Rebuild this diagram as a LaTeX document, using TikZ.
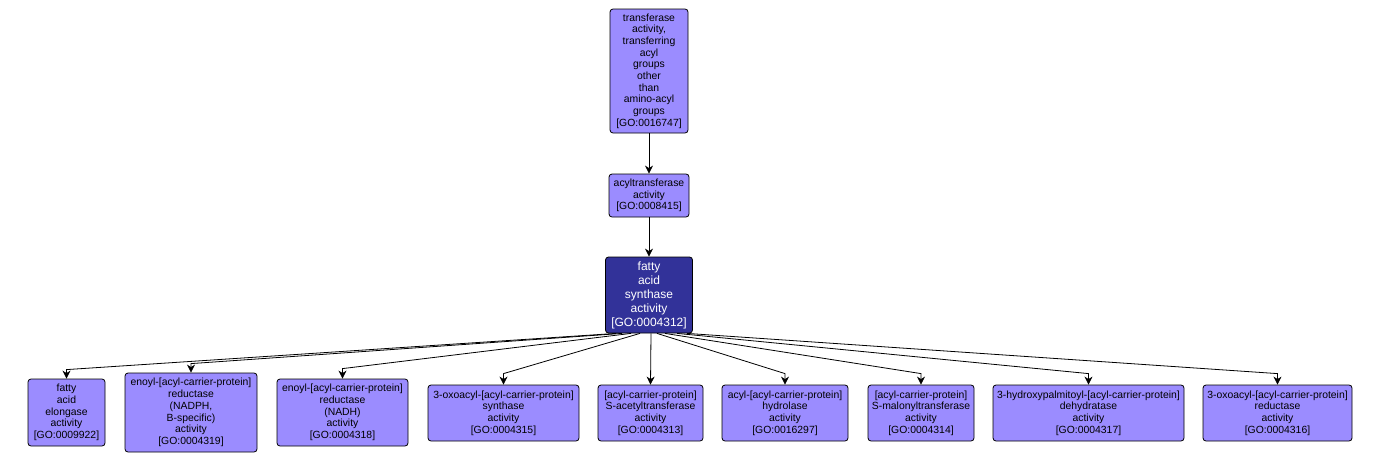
\documentclass[tikz,border=0pt]{standalone}
\usepackage{fontspec}
\setmainfont{Liberation Sans}
\usetikzlibrary{arrows.meta, positioning}
\definecolor{termfill}{RGB}{155,140,255}
\definecolor{focusfill}{RGB}{50,50,153}
\tikzset{x = 1pt, y = -1pt,
         >= {Stealth[length = 8pt, width = 8pt, inset = 2.5pt]},
         term/.style = {draw, rounded corners = 3pt, fill = termfill,
                        inner sep = 0pt, align = center, line width = 0.8pt,
                        font = \fontsize{10.4}{11.7}\selectfont},
         focus/.style = {term, fill = focusfill, text = white,
                         font = \fontsize{12}{14}\selectfont},
         link/.style = {->, line width = 0.8pt}}

\begin{document}
\begin{tikzpicture}
        \useasboundingbox (0,0) rectangle (1388,463);

        % upper chain
        \node[term, minimum width = 78pt, minimum height = 124pt] (go16747) at (649,71)
              {transferase\\activity,\\transferring\\acyl\\groups\\other\\than\\amino-acyl\\groups\\{[GO:0016747]}};
        \node[term, minimum width = 80pt, minimum height = 43pt]  (go8415)  at (649,195.5)
              {acyltransferase\\activity\\{[GO:0008415]}};
        \node[focus, minimum width = 87pt, minimum height = 76pt] (go4312)  at (649,295)
              {fatty\\acid\\synthase\\activity\\{[GO:0004312]}};

        % children
        \node[term, minimum width = 77pt, minimum height = 67pt]  (go9922)  at (66.5,412.5)
              {fatty\\acid\\elongase\\activity\\{[GO:0009922]}};
        \node[term, minimum width = 132pt, minimum height = 79pt] (go4319)  at (191,412.5)
              {enoyl-[acyl-carrier-protein]\\reductase\\(NADPH,\\B-specific)\\activity\\{[GO:0004319]}};
        \node[term, minimum width = 131pt, minimum height = 67pt] (go4318)  at (342.5,412.5)
              {enoyl-[acyl-carrier-protein]\\reductase\\(NADH)\\activity\\{[GO:0004318]}};
        \node[term, minimum width = 151pt, minimum height = 56pt] (go4315)  at (503.5,413)
              {3-oxoacyl-[acyl-carrier-protein]\\synthase\\activity\\{[GO:0004315]}};
        \node[term, minimum width = 105pt, minimum height = 56pt] (go4313)  at (650.5,413)
              {{[acyl-carrier-protein]}\\S-acetyltransferase\\activity\\{[GO:0004313]}};
        \node[term, minimum width = 126pt, minimum height = 56pt] (go16297) at (785,413)
              {acyl-[acyl-carrier-protein]\\hydrolase\\activity\\{[GO:0016297]}};
        \node[term, minimum width = 106pt, minimum height = 56pt] (go4314)  at (921,413)
              {{[acyl-carrier-protein]}\\S-malonyltransferase\\activity\\{[GO:0004314]}};
        \node[term, minimum width = 191pt, minimum height = 56pt] (go4317)  at (1088.5,413)
              {3-hydroxypalmitoyl-[acyl-carrier-protein]\\dehydratase\\activity\\{[GO:0004317]}};
        \node[term, minimum width = 149pt, minimum height = 56pt] (go4316)  at (1277.5,413)
              {3-oxoacyl-[acyl-carrier-protein]\\reductase\\activity\\{[GO:0004316]}};

        \draw[link] (go16747) -- (go8415);
        \draw[link] (go8415)  -- (go4312);

        \draw[link] ([xshift=-33pt]go4312.south) -- ([yshift=9pt]go9922.north)  -- (go9922.north);
        \draw[link] ([xshift=-27pt]go4312.south) -- ([yshift=9pt]go4319.north)  -- (go4319.north);
        \draw[link] ([xshift=-18pt]go4312.south) -- ([yshift=10pt]go4318.north) -- (go4318.north);
        \draw[link] ([xshift=-9pt]go4312.south)  -- ([yshift=11pt]go4315.north) -- (go4315.north);
        \draw[link] ([xshift=2pt]go4312.south)   -- (go4313.north);
        \draw[link] ([xshift=8pt]go4312.south)   -- ([yshift=11pt]go16297.north) -- (go16297.north);
        \draw[link] ([xshift=16pt]go4312.south)  -- ([yshift=11pt]go4314.north)  -- (go4314.north);
        \draw[link] ([xshift=28pt]go4312.south)  -- ([yshift=11pt]go4317.north)  -- (go4317.north);
        \draw[link] ([xshift=38pt]go4312.south)  -- ([yshift=11pt]go4316.north)  -- (go4316.north);
\end{tikzpicture}
\end{document}
